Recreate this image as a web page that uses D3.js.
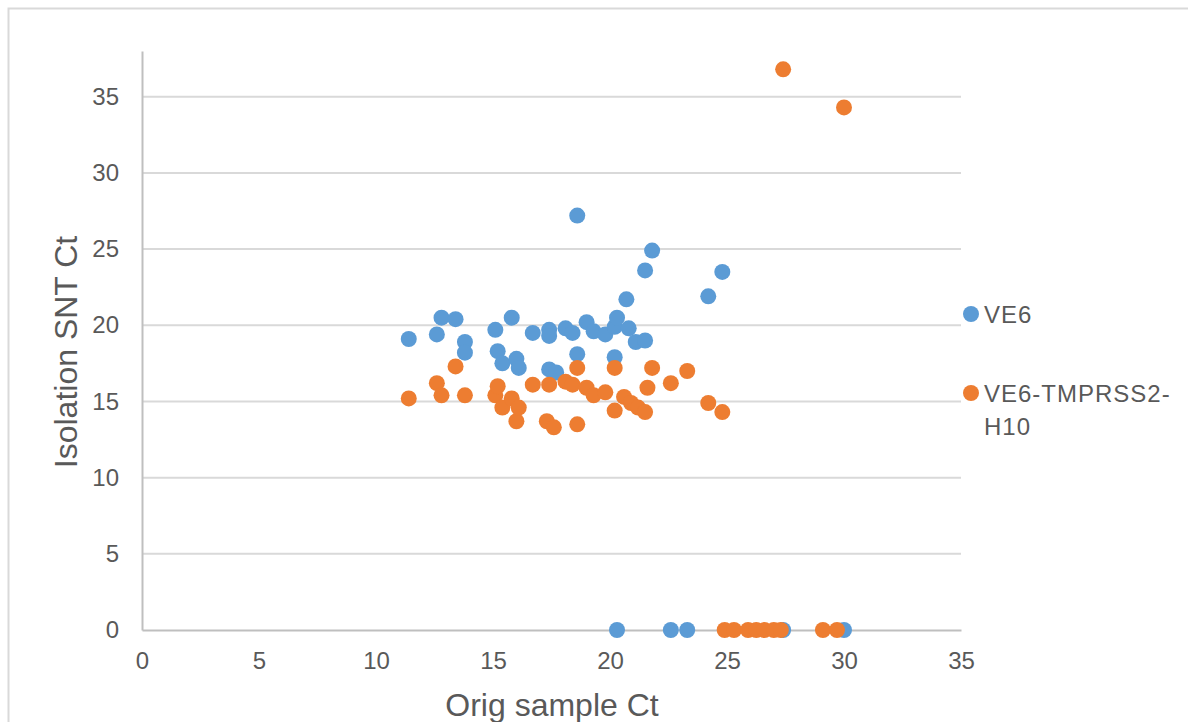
<!DOCTYPE html>
<html>
<head>
<meta charset="utf-8">
<script src="https://cdn.jsdelivr.net/npm/d3@7"></script>
<style>
  body { margin: 0; background: #fff; }
  svg text { font-family: "Liberation Sans", Arial, sans-serif; fill: #595959; }
</style>
</head>
<body>
<div id="chart"></div>
<script>
// VE6 series: orig sample Ct vs isolation SNT Ct
var ve6X = [11.4, 12.6, 12.8, 13.4, 13.8, 13.8, 15.1, 15.2, 15.4, 15.8, 16.0, 16.1,
            16.7, 17.4, 17.4, 17.4, 17.7, 18.1, 18.4, 18.6, 18.6, 19.0, 19.3, 19.8,
            20.2, 20.3, 20.2, 20.7, 20.8, 21.1, 21.5, 21.5, 21.8, 24.2, 24.8,
            20.3, 22.6, 23.3, 27.4, 30.0];
var ve6Y = [19.1, 19.4, 20.5, 20.4, 18.9, 18.2, 19.7, 18.3, 17.5, 20.5, 17.8, 17.2,
            19.5, 19.7, 19.3, 17.1, 16.9, 19.8, 19.5, 27.2, 18.1, 20.2, 19.6, 19.4,
            19.9, 20.5, 17.9, 21.7, 19.8, 18.9, 19.0, 23.6, 24.9, 21.9, 23.5,
            0, 0, 0, 0, 0];

// VE6-TMPRSS2-H10 series
var tmprssX = [11.4, 12.6, 12.8, 13.4, 13.8, 15.1, 15.2, 15.4, 15.8, 16.0, 16.1, 16.7,
               17.4, 17.3, 17.6, 18.1, 18.4, 18.6, 18.6, 19.0, 19.3, 19.8, 20.2, 20.2,
               20.6, 20.9, 21.2, 21.5, 21.6, 21.8, 22.6, 23.3, 24.2, 24.8, 27.4, 30.0,
               24.9, 25.3, 25.9, 26.25, 26.6, 27.0, 27.3, 29.1, 29.7];
var tmprssY = [15.2, 16.2, 15.4, 17.3, 15.4, 15.4, 16.0, 14.6, 15.2, 13.7, 14.6, 16.1,
               16.1, 13.7, 13.3, 16.3, 16.1, 17.2, 13.5, 15.9, 15.4, 15.6, 17.2, 14.4,
               15.3, 14.9, 14.6, 14.3, 15.9, 17.2, 16.2, 17.0, 14.9, 14.3, 36.8, 34.3,
               0, 0, 0, 0, 0, 0, 0, 0, 0];

var seriesNames = ["VE6", "VE6-TMPRSS2-H10"];
var seriesColors = ["#5b9bd5", "#ed7d31"];
var xTicks = [0, 5, 10, 15, 20, 25, 30, 35];
var yTicks = [0, 5, 10, 15, 20, 25, 30, 35];

var W = 1188, H = 722;
var margin = {top: 51, right: 227, bottom: 92, left: 142};
var width = W - margin.left - margin.right,
    height = H - margin.top - margin.bottom;

var svg = d3.select("#chart").append("svg")
    .attr("width", W)
    .attr("height", H);

// chart border
svg.append("rect")
    .attr("x", 8.5).attr("y", 8.5)
    .attr("width", 1300).attr("height", 900)
    .attr("fill", "none")
    .attr("stroke", "#d9d9d9")
    .attr("stroke-width", 2);

var g = svg.append("g")
    .attr("transform", "translate(" + margin.left + "," + margin.top + ")");

var x = d3.scaleLinear().domain([0, 35]).range([0, width]);
var y = d3.scaleLinear().domain([0, 38]).range([height, 0]);

// gridlines
g.append("g")
    .selectAll("line")
    .data(yTicks.slice(1))
    .enter().append("line")
    .attr("x1", 0).attr("x2", width)
    .attr("y1", function(d) { return y(d); })
    .attr("y2", function(d) { return y(d); })
    .attr("stroke", "#d9d9d9")
    .attr("stroke-width", 2);

// axes
var xAxis = g.append("g")
    .attr("transform", "translate(0," + height + ")")
    .call(d3.axisBottom(x).tickValues(xTicks).tickSize(0).tickPadding(22));
xAxis.select(".domain").attr("stroke", "#bfbfbf").attr("stroke-width", 2);
xAxis.selectAll("text").style("font-size", "24px").attr("fill", "#595959");

var yAxis = g.append("g")
    .call(d3.axisLeft(y).tickValues(yTicks).tickSize(0).tickPadding(23));
yAxis.select(".domain").attr("stroke", "#bfbfbf").attr("stroke-width", 2);
yAxis.selectAll("text").style("font-size", "24px").attr("fill", "#595959");

// points
var sets = [
    {name: seriesNames[0], xs: ve6X, ys: ve6Y, color: seriesColors[0]},
    {name: seriesNames[1], xs: tmprssX, ys: tmprssY, color: seriesColors[1]}
];

sets.forEach(function(s) {
    var pts = s.xs.map(function(v, i) { return [v, s.ys[i]]; });
    g.append("g").selectAll("circle")
        .data(pts)
        .enter().append("circle")
        .attr("cx", function(d) { return x(d[0]); })
        .attr("cy", function(d) { return y(d[1]); })
        .attr("r", 8)
        .attr("fill", s.color);
});

// axis titles
svg.append("text")
    .attr("x", 552)
    .attr("y", 716)
    .attr("text-anchor", "middle")
    .style("font-size", "32px")
    .text("Orig sample Ct");

svg.append("text")
    .attr("transform", "translate(77,352) rotate(-90)")
    .attr("text-anchor", "middle")
    .style("font-size", "32px")
    .text("Isolation SNT Ct");

// legend
var legend = svg.append("g");
var legendY = [314, 393];
legend.selectAll("circle")
    .data(seriesColors)
    .enter().append("circle")
    .attr("cx", 971)
    .attr("cy", function(d, i) { return legendY[i]; })
    .attr("r", 8)
    .attr("fill", function(d) { return d; });

legend.append("text")
    .attr("x", 984).attr("y", 323)
    .style("font-size", "24px")
    .style("letter-spacing", "1px")
    .text("VE6");

var t2 = legend.append("text")
    .attr("x", 984).attr("y", 402)
    .style("font-size", "24px")
    .style("letter-spacing", "1px");
t2.append("tspan").text("VE6-TMPRSS2-");
t2.append("tspan").attr("x", 984).attr("dy", 33).text("H10");
</script>
</body>
</html>
